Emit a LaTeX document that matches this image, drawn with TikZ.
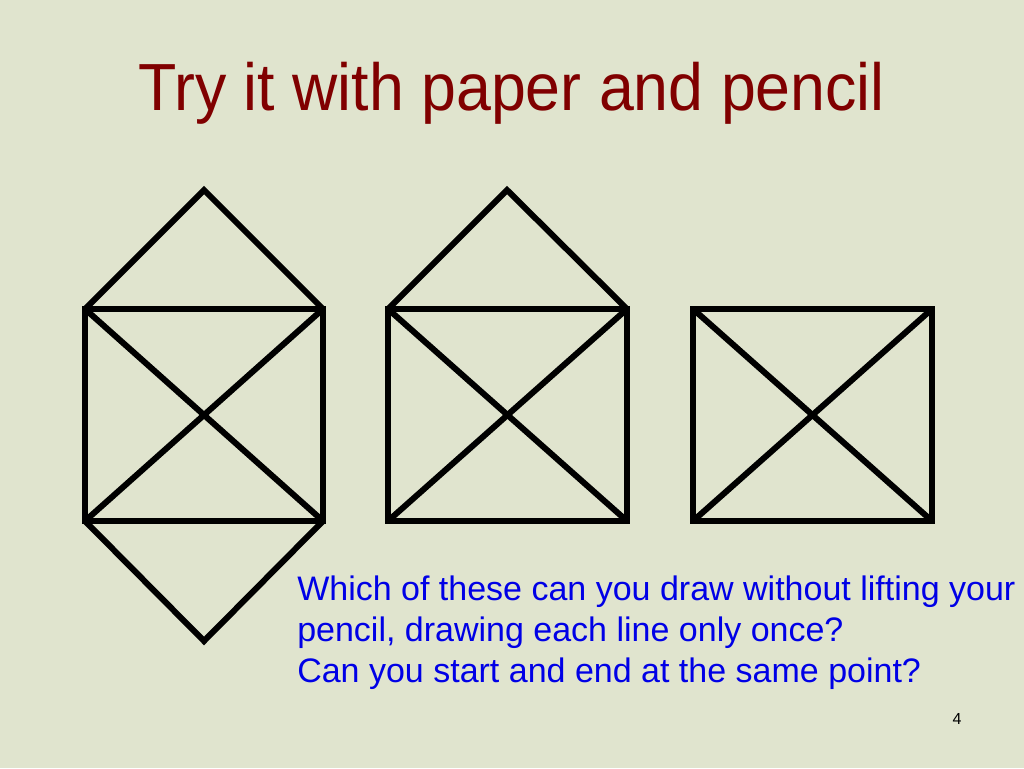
\documentclass[tikz,border=0pt]{standalone}
\usepackage{fontspec}
\setmainfont{Liberation Sans}
\newfontfamily\titlefont[FakeStretch=0.94]{Liberation Sans}
\usepackage{tikz}
\definecolor{slidebg}{RGB}{224,228,206}
\definecolor{titlered}{RGB}{128,0,0}
\definecolor{textblue}{RGB}{0,0,230}
\tikzstyle{edge} = [draw,line width=4.5pt,line join=miter,black]
\tikzstyle{title} = [anchor=base west,inner sep=0pt,text=titlered,font=\titlefont\fontsize{50}{60}\selectfont]
\tikzstyle{question} = [anchor=base west,inner sep=0pt,text=textblue,align=left,font=\fontsize{25.5}{30.75}\selectfont]

\begin{document}
\begin{tikzpicture}[x=0.75pt,y=-0.75pt]
        \fill[slidebg] (0,0) rectangle (1024,768);
        \useasboundingbox (0,0) rectangle (1024,768);
        \node[title] (t) at (138,110) {Try it with paper and pencil};
        % first figure
        \coordinate (a1) at (85,309);
        \coordinate (a2) at (323,309);
        \coordinate (a3) at (323,521);
        \coordinate (a4) at (85,521);
        \coordinate (a5) at (204,190);
        \coordinate (a6) at (204,641);
        \path[edge] (a1) -- (a2) -- (a3) -- (a4) -- cycle;
        \path[edge] (a1) -- (a5) -- (a2);
        \path[edge] (a4) -- (a6) -- (a3);
        \path[edge] (a1) -- (a3);
        \path[edge] (a2) -- (a4);
        % second figure
        \coordinate (b1) at (388,309);
        \coordinate (b2) at (627,309);
        \coordinate (b3) at (627,521);
        \coordinate (b4) at (388,521);
        \coordinate (b5) at (507,190);
        \path[edge] (b1) -- (b2) -- (b3) -- (b4) -- cycle;
        \path[edge] (b1) -- (b5) -- (b2);
        \path[edge] (b1) -- (b3);
        \path[edge] (b2) -- (b4);
        % third figure
        \coordinate (c1) at (693,309);
        \coordinate (c2) at (932,309);
        \coordinate (c3) at (932,521);
        \coordinate (c4) at (693,521);
        \path[edge] (c1) -- (c2) -- (c3) -- (c4) -- cycle;
        \path[edge] (c1) -- (c3);
        \path[edge] (c2) -- (c4);
        % base of a multi-line node is its last line
        \node[question] (q) at (297,682) {Which of these can you draw without lifting your\\pencil, drawing each line only once?\\Can you start and end at the same point?};
        \node[anchor=base,inner sep=0pt,font=\fontsize{12}{14}\selectfont] (n) at (957,724) {4};
    \end{tikzpicture}
\end{document}
